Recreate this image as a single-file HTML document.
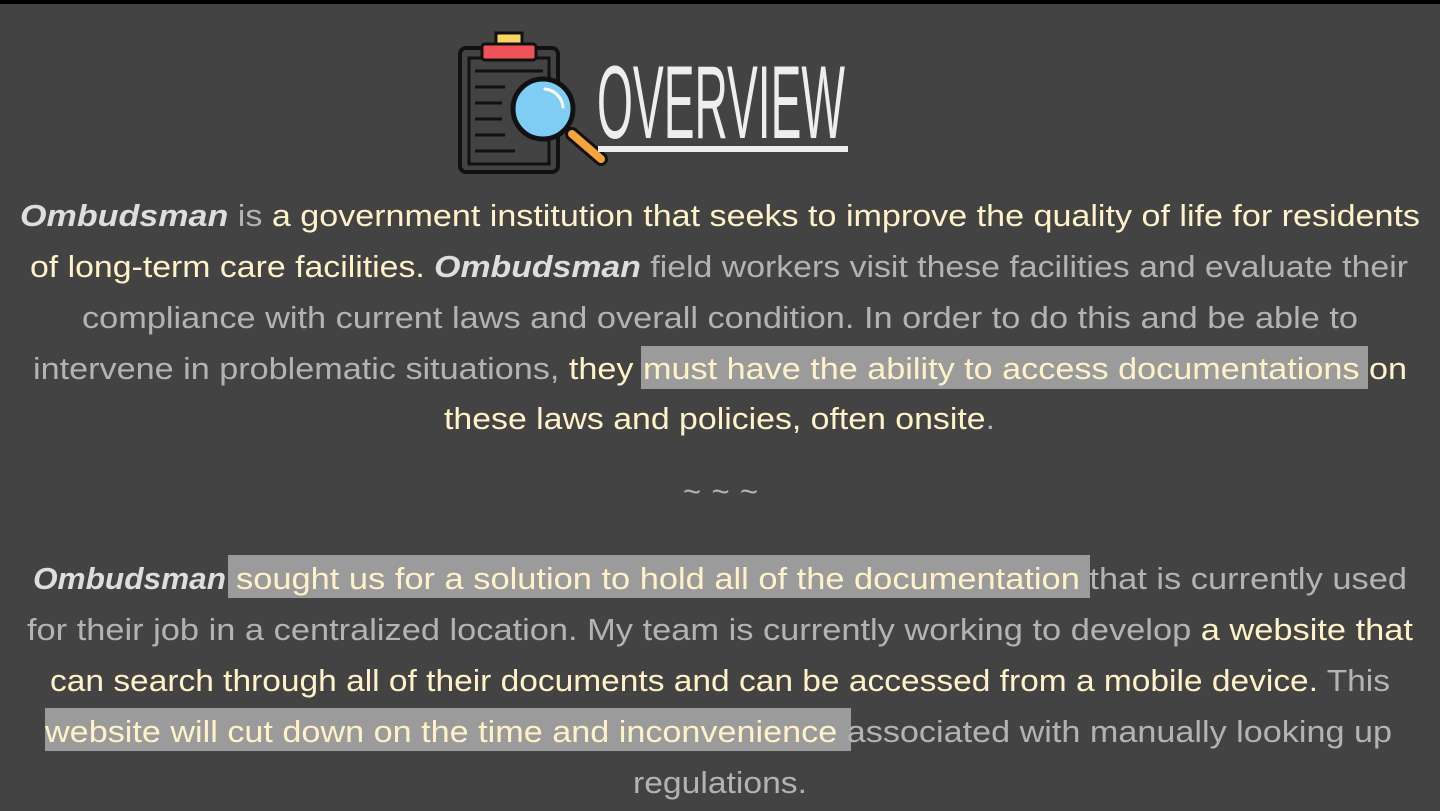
<!DOCTYPE html>
<html><head><meta charset="utf-8"><style>
html,body{margin:0;padding:0;background:#434343;width:1440px;height:811px;overflow:hidden}
svg{display:block}
.t{font-family:"Liberation Sans",sans-serif;font-size:31px}
.y{fill:#fff2c8}.g{fill:#b3b3b3}.o{fill:#dedede;font-weight:bold;font-style:italic}
</style></head><body>
<svg width="1440" height="811" viewBox="0 0 1440 811">
<rect x="0" y="0" width="1440" height="811" fill="#434343"/>
<rect x="0" y="0" width="1440" height="4" fill="#000"/>
<g>
  <rect x="460" y="48" width="98" height="124" rx="6" fill="#434343" stroke="#111" stroke-width="4"/>
  <rect x="469" y="58" width="80" height="106" fill="#434343" stroke="#111" stroke-width="3"/>
  <rect x="482" y="44" width="54" height="16" rx="3" fill="#f0525a" stroke="#111" stroke-width="3"/>
  <rect x="496" y="33" width="26" height="11" fill="#fbd561" stroke="#111" stroke-width="3"/>
  <g stroke="#111" stroke-width="3"><line x1="475" y1="71" x2="543" y2="71"/><line x1="475" y1="87" x2="505" y2="87"/><line x1="475" y1="103" x2="502" y2="103"/><line x1="475" y1="119" x2="502" y2="119"/><line x1="475" y1="135" x2="505" y2="135"/><line x1="475" y1="151" x2="515" y2="151"/></g>
  <line x1="572" y1="134" x2="601" y2="159" stroke="#111" stroke-width="14" stroke-linecap="round"/>
  <line x1="572" y1="134" x2="601" y2="159" stroke="#f5a33b" stroke-width="8" stroke-linecap="round"/>
  <circle cx="543" cy="109" r="30" fill="#7fcdf5" stroke="#111" stroke-width="5"/>
  <path d="M545 89 A20 20 0 0 1 563 107" fill="none" stroke="#fff" stroke-width="3" stroke-linecap="round"/>
</g>
<text x="597" y="138" textLength="248" lengthAdjust="spacingAndGlyphs" font-family="'Liberation Sans Narrow','Liberation Sans',sans-serif" font-size="104" fill="#eeeeee">OVERVIEW</text>
<rect x="598" y="146" width="250" height="6" fill="#eeeeee"/>
<g fill="#9b9b9b">
  <rect x="641" y="346" width="727" height="43"/>
  <rect x="228" y="555" width="862" height="43"/>
  <rect x="45" y="708" width="806" height="43"/>
</g>
<g class="t">
<text x="20" y="226" textLength="1400" lengthAdjust="spacingAndGlyphs"><tspan class="o">Ombudsman</tspan><tspan class="g"> is </tspan><tspan class="y">a government institution that seeks to improve the quality of life for residents</tspan></text>
<text x="30" y="277" textLength="1378" lengthAdjust="spacingAndGlyphs"><tspan class="y">of long-term care facilities. </tspan><tspan class="o">Ombudsman</tspan><tspan class="g"> field workers visit these facilities and evaluate their</tspan></text>
<text x="82" y="328" textLength="1276" lengthAdjust="spacingAndGlyphs" class="g">compliance with current laws and overall condition. In order to do this and be able to</text>
<text x="33" y="379" textLength="1374" lengthAdjust="spacingAndGlyphs"><tspan class="g">intervene in problematic situations, </tspan><tspan class="y">they must have the ability to access documentations on</tspan></text>
<text x="444" y="429" textLength="551" lengthAdjust="spacingAndGlyphs"><tspan class="y">these laws and policies, often onsite</tspan><tspan class="g">.</tspan></text>
</g>
<text x="683" y="502" textLength="75" lengthAdjust="spacing" class="t g">~ ~ ~</text>
<g class="t">
<text x="33" y="589" textLength="193" lengthAdjust="spacingAndGlyphs" class="o">Ombudsman</text>
<text x="236" y="589" textLength="1171" lengthAdjust="spacingAndGlyphs"><tspan class="y">sought us for a solution to hold all of the documentation </tspan><tspan class="g">that is currently used</tspan></text>
<text x="27" y="640" textLength="1386" lengthAdjust="spacingAndGlyphs"><tspan class="g">for their job in a centralized location. My team is currently working to develop </tspan><tspan class="y">a website that</tspan></text>
<text x="50" y="691" textLength="1340" lengthAdjust="spacingAndGlyphs"><tspan class="y">can search through all of their documents and can be accessed from a mobile device.</tspan><tspan class="g"> This</tspan></text>
<text x="45" y="742" textLength="1347" lengthAdjust="spacingAndGlyphs"><tspan class="y">website will cut down on the time and inconvenience </tspan><tspan class="g">associated with manually looking up</tspan></text>
<text x="633" y="793" textLength="174" lengthAdjust="spacingAndGlyphs" class="g">regulations.</text>
</g>
</svg>
</body></html>
